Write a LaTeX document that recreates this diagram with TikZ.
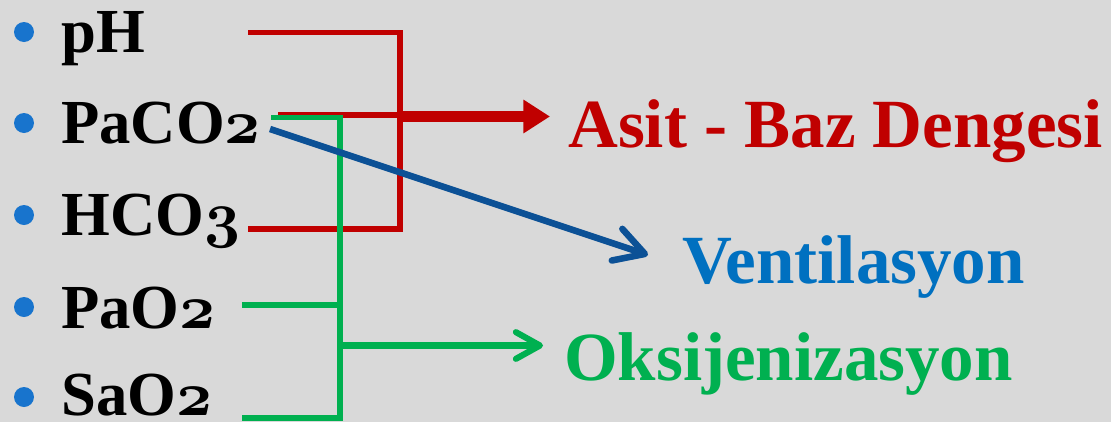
\documentclass[tikz,border=0pt]{standalone}
\usepackage{fix-cm}
\usepackage{fontspec}
\setmainfont{Liberation Serif}
\usetikzlibrary{arrows.meta}
\definecolor{bg}{HTML}{D9D9D9}
\definecolor{myred}{HTML}{C00000}
\definecolor{mygreen}{HTML}{00B050}
\definecolor{lineblue}{HTML}{0C5196}
\definecolor{textblue}{HTML}{0070C0}
\definecolor{bulletblue}{HTML}{1874CD}
\DeclareMathSizes{47}{47}{33}{24}
\newcommand{\osn}[1]{{\boldmath$\mathnormal{#1}$}}
\tikzset{
  leftlbl/.style={anchor=base west, inner sep=0pt, font=\fontsize{47}{50}\selectfont\bfseries},
  rightlbl/.style={anchor=base west, inner sep=0pt, font=\fontsize{51.75pt}{55pt}\selectfont\bfseries},
  bulletdot/.style={circle, fill=bulletblue, inner sep=0pt, minimum size=15pt},
  redline/.style={draw=myred, line width=4.3pt},
  greenline/.style={draw=mygreen, line width=4.4pt},
  bluearrow/.style={draw=lineblue, line width=4.9pt, -{Straight Barb[length=22pt, width=25pt, line cap=round, line join=round]}},
  redarrow/.style={draw=myred, line width=8.6pt, -{Triangle[length=20pt, width=24pt]}},
  greenarrow/.style={draw=mygreen, line width=4.6pt, -{Straight Barb[length=18pt, width=20pt, line cap=round, line join=round]}}
}
\begin{document}
\begin{tikzpicture}[x=0.75pt, y=-0.75pt]
\fill[bg] (0,0) rectangle (1111,422);
\useasboundingbox (0,0) rectangle (1111,422);

% bullets
\node[bulletdot] (b1) at (24,32) {};
\node[bulletdot] (b2) at (24,123) {};
\node[bulletdot] (b3) at (24,215) {};
\node[bulletdot] (b4) at (24,307) {};
\node[bulletdot] (b5) at (24,397) {};

% left labels
\node[leftlbl] (ph) at (61,52) {pH};
\node[leftlbl] (paco2) at (61,143) {PaCO\osn{2}};
\node[leftlbl] (hco3) at (61,235) {HCO\osn{3}};
\node[leftlbl] (pao2) at (61,328) {PaO\osn{2}};
\node[leftlbl] (sao2) at (61,415) {SaO\osn{2}};

% right labels
\node[rightlbl, text=myred] (asit) at (568,147) {Asit - Baz Dengesi};
\node[rightlbl, text=textblue] (vent) at (682,283) {Ventilasyon};
\node[rightlbl, text=mygreen] (oks) at (564,380) {Oksijenizasyon};

% coordinates
\coordinate (phout) at (248,32.5);
\coordinate (redtop) at (400,32.5);
\coordinate (redbot) at (400,229);
\coordinate (hco3out) at (248,229);
\coordinate (paco2red) at (278,115);
\coordinate (redjoin) at (400,115);
\coordinate (redstart) at (400,116.5);
\coordinate (asitin) at (550,116.5);

\coordinate (paco2green) at (271,117.5);
\coordinate (greentop) at (340,117.5);
\coordinate (greenbot) at (340,418);
\coordinate (sao2out) at (242,418);
\coordinate (pao2out) at (242,305);
\coordinate (greenmid) at (340,305);
\coordinate (greenstart) at (340,345.5);
\coordinate (oksin) at (543,345.5);

\coordinate (paco2blue) at (270,129);
\coordinate (ventin) at (648,255);

% red bracket
\draw[redline] (phout) -- (redtop) -- (redbot) -- (hco3out);
\draw[redline] (paco2red) -- (redjoin);
\draw[redarrow] (redstart) -- (asitin);

% green bracket
\draw[greenline] (paco2green) -- (greentop) -- (greenbot) -- (sao2out);
\draw[greenline] (pao2out) -- (greenmid);
\draw[greenarrow] (greenstart) -- (oksin);

% blue arrow
\draw[bluearrow] (paco2blue) -- (ventin);
\end{tikzpicture}
\end{document}
